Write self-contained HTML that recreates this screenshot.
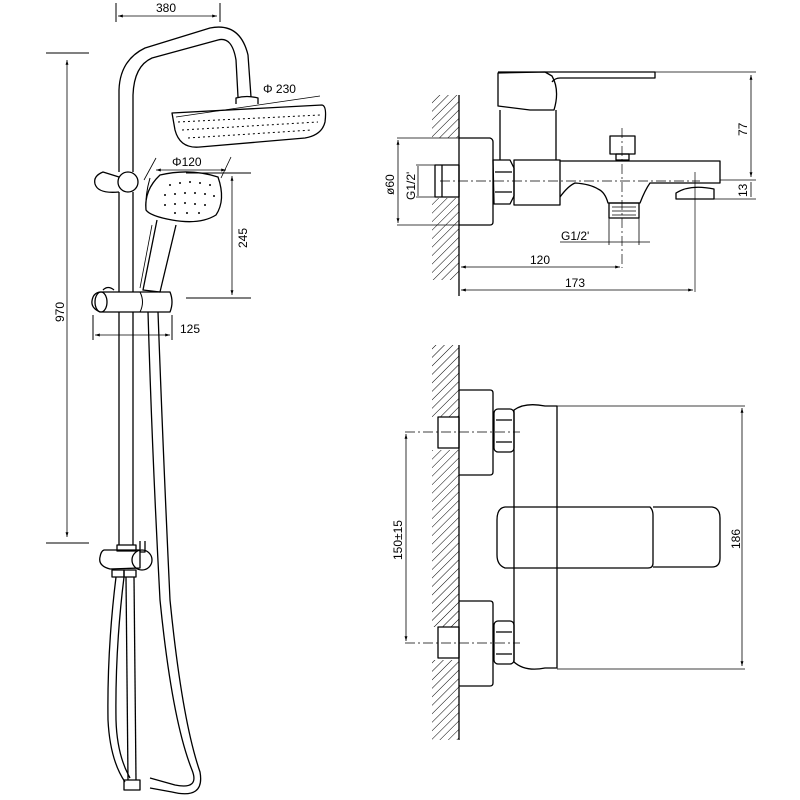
<!DOCTYPE html>
<html><head><meta charset="utf-8"><style>
html,body{margin:0;padding:0;background:#fff}
svg{display:block}
text{font-family:"Liberation Sans",sans-serif;font-size:12px;fill:#000}
</style></head><body>
<svg width="800" height="800" viewBox="0 0 800 800" xmlns="http://www.w3.org/2000/svg">
<defs>
<pattern id="h" width="6" height="6" patternUnits="userSpaceOnUse" patternTransform="rotate(45)">
<line x1="0" y1="0" x2="0" y2="6" stroke="#000" stroke-width="1"/>
</pattern>
<marker id="a" viewBox="0 0 10 10" refX="10" refY="5" markerWidth="6" markerHeight="6" orient="auto-start-reverse"><path d="M0,2 L10,5 L0,8 z" fill="#000"/></marker>
</defs>
<g fill="none" stroke="#000" stroke-width="1.3" stroke-linejoin="round">
<line x1="116" y1="3" x2="116" y2="22" stroke-width="1"/>
<line x1="220" y1="3" x2="220" y2="22" stroke-width="1"/>
<line x1="118" y1="16" x2="217" y2="16" stroke-width="0.8" marker-start="url(#a)" marker-end="url(#a)"/>
<line x1="46" y1="53" x2="89" y2="53" stroke-width="1"/>
<line x1="46" y1="543" x2="89" y2="543" stroke-width="1"/>
<line x1="67" y1="60" x2="67" y2="537" stroke-width="0.8" marker-start="url(#a)" marker-end="url(#a)"/>
<path d="M119,172 L119,90 Q120,60 145,48 L210,28 Q240,22 248,55 L251,97"/>
<path d="M133,172 L133,95 Q134,66 152,58 L218,40 Q232,36 236,60 L238,97"/>
<path d="M119,192 L119,292"/><path d="M133,192 L133,292"/>
<path d="M119,312 L119,545"/><path d="M133,312 L133,545"/>
<path d="M236,104 L236,98 Q247,95 258,98 L258,104"/>
<path d="M172,113 L322,105 Q327,106 325,122 Q322,135 305,138 L200,147 Q180,149 175,130 Z"/>
<path d="M176,117 L320,96" stroke-width="0.7"/>
<path d="M178,122 L320,115" stroke-dasharray="2,3" stroke-width="1"/>
<path d="M182,130 L318,122" stroke-dasharray="2,3" stroke-width="1"/>
<path d="M188,138 L312,130" stroke-dasharray="2,3" stroke-width="1"/>
<path d="M119,177 L103,172 Q93,176 95,184 Q98,194 119,192"/>
<ellipse cx="128" cy="182" rx="10" ry="10"/>
<path d="M160,175 Q190,168 218,177 Q226,200 216,215 Q200,225 172,220 Q150,216 146,210 Q144,190 160,175 Z"/>
<path d="M150,178 Q145,195 146,210" stroke-width="1"/>
<g fill="#000" stroke="none">
<circle cx="170" cy="185" r="1"/><circle cx="180" cy="183" r="1"/><circle cx="190" cy="182" r="1"/><circle cx="200" cy="183" r="1"/><circle cx="210" cy="185" r="1"/>
<circle cx="165" cy="195" r="1"/><circle cx="175" cy="194" r="1"/><circle cx="185" cy="193" r="1"/><circle cx="195" cy="193" r="1"/><circle cx="205" cy="194" r="1"/><circle cx="214" cy="196" r="1"/>
<circle cx="165" cy="205" r="1"/><circle cx="175" cy="204" r="1"/><circle cx="185" cy="203" r="1"/><circle cx="195" cy="204" r="1"/><circle cx="205" cy="205" r="1"/>
<circle cx="175" cy="213" r="1"/><circle cx="187" cy="213" r="1"/><circle cx="199" cy="213" r="1"/>
</g>
<path d="M157,220 L143,290 L160,292 L176,225"/>
<path d="M152,225 L140,288" stroke-width="0.8"/>
<line x1="186" y1="173" x2="251" y2="173" stroke-width="1"/>
<line x1="186" y1="298" x2="251" y2="298" stroke-width="1"/>
<line x1="232" y1="176" x2="232" y2="295" stroke-width="0.8" marker-start="url(#a)" marker-end="url(#a)"/>
<line x1="156" y1="158" x2="144" y2="180" stroke-width="0.8"/>
<line x1="231" y1="157" x2="221" y2="178" stroke-width="0.8"/>
<line x1="156" y1="170" x2="226" y2="170" stroke-width="0.8" marker-start="url(#a)" marker-end="url(#a)"/>
<path d="M100,292 L170,292 Q174,302 170,312 L100,312 Q91,308 92,301 Q93,293 100,292 Z"/>
<ellipse cx="101" cy="302" rx="6" ry="10"/>
<path d="M103,290 Q108,285 114,290" />
<path d="M140,292 Q145,302 140,312" stroke-width="1"/>
<line x1="93" y1="315" x2="93" y2="340" stroke-width="1"/>
<line x1="172" y1="315" x2="172" y2="340" stroke-width="1"/>
<line x1="95" y1="335" x2="170" y2="335" stroke-width="0.8" marker-start="url(#a)" marker-end="url(#a)"/>
<path d="M148,312 Q152,450 160,600 Q172,720 192,770 Q200,790 175,785 L150,778"/>
<path d="M158,312 Q163,450 170,600 Q182,720 200,772 Q205,800 172,792 L150,788"/>
<path d="M117,545 L136,545 L136,551 L117,551 Z"/>
<path d="M140,541 L140,552 L145,552 L145,541"/>
<path d="M104,550 L140,550 L140,568 L110,569 Q98,566 100,557 Q101,551 104,550 Z"/>
<ellipse cx="142" cy="560" rx="10" ry="10"/>
<rect x="112" y="570" width="12" height="7"/><rect x="124" y="570" width="12" height="7"/>
<path d="M116,577 Q107,650 108,720 Q110,760 125,782"/>
<path d="M124,577 Q115,650 116,720 Q117,755 130,778"/>
<path d="M126,577 L128,780"/><path d="M134,577 L136,780"/>
<rect x="124" y="780" width="16" height="10"/>
<!-- RIGHT TOP -->
<rect x="432" y="95" width="27" height="43" fill="url(#h)" stroke="none"/>
<rect x="432" y="198" width="27" height="82" fill="url(#h)" stroke="none"/>
<line x1="459" y1="95" x2="459" y2="296"/>
<path d="M459,138 L490,138 Q493,139 493,142 L493,222 Q493,225 490,225 L459,225"/>
<rect x="435" y="165" width="24" height="32"/>
<line x1="442" y1="165" x2="442" y2="197"/>
<path d="M493,160 L510,160 L514,168 L514,196 L510,204 L494,204 Z"/>
<path d="M495,172 L512,172 M495,192 L512,192"/>
<rect x="514" y="160" width="46" height="45"/>
<path d="M498,73 L498,106 L530,110 L554,110 Q560,90 552,76 L545,72 Z"/>
<path d="M498,72 L655,72 L655,78 L560,78 Q555,78 552,82" />
<path d="M500,110 L500,160 M556,110 L556,160"/>
<path d="M560,161 L720,161 L720,183 L650,183 Q645,190 640,203 L608,203 Q605,192 598,189 Q590,184 575,183 Q568,186 560,197"/>
<rect x="610" y="136" width="25" height="18"/><rect x="616" y="154" width="13" height="6"/>
<rect x="609" y="203" width="30" height="15"/>
<path d="M612,207 L636,207 M612,211 L636,211 M612,215 L636,215" stroke-width="0.8"/>
<path d="M676,199 L676,193 Q690,184 714,189 L714,199 Z"/>
<line x1="440" y1="181" x2="700" y2="181" stroke-width="0.7" stroke-dasharray="10,3,2,3"/>
<line x1="622" y1="128" x2="622" y2="268" stroke-width="0.7" stroke-dasharray="10,3,2,3"/>
<line x1="695" y1="172" x2="695" y2="292" stroke-width="0.7"/>
<line x1="655" y1="72" x2="756" y2="72" stroke-width="0.8"/>
<line x1="720" y1="180" x2="756" y2="180" stroke-width="0.8"/>
<line x1="712" y1="199" x2="756" y2="199" stroke-width="0.8"/>
<line x1="751" y1="75" x2="751" y2="177" stroke-width="0.8" marker-start="url(#a)" marker-end="url(#a)"/>
<line x1="751" y1="182" x2="751" y2="197" stroke-width="0.8"/>
<line x1="397" y1="138" x2="459" y2="138" stroke-width="0.8"/>
<line x1="397" y1="225" x2="459" y2="225" stroke-width="0.8"/>
<line x1="398" y1="140" x2="398" y2="223" stroke-width="0.8" marker-start="url(#a)" marker-end="url(#a)"/>
<line x1="418" y1="166" x2="418" y2="196" stroke-width="0.8"/>
<line x1="416" y1="165" x2="435" y2="165" stroke-width="0.8"/>
<line x1="416" y1="197" x2="435" y2="197" stroke-width="0.8"/>
<line x1="609" y1="218" x2="609" y2="245" stroke-width="0.8"/>
<line x1="639" y1="218" x2="639" y2="245" stroke-width="0.8"/>
<line x1="560" y1="242" x2="650" y2="242" stroke-width="0.8"/>
<line x1="461" y1="267" x2="620" y2="267" stroke-width="0.8" marker-start="url(#a)" marker-end="url(#a)"/>
<line x1="461" y1="290" x2="693" y2="290" stroke-width="0.8" marker-start="url(#a)" marker-end="url(#a)"/>
<!-- RIGHT BOTTOM -->
<rect x="432" y="345" width="27" height="72" fill="url(#h)" stroke="none"/>
<rect x="432" y="450" width="27" height="177" fill="url(#h)" stroke="none"/>
<rect x="432" y="660" width="27" height="80" fill="url(#h)" stroke="none"/>
<line x1="459" y1="345" x2="459" y2="740"/>
<path d="M459,390 L490,390 Q493,390 493,393 L493,472 Q493,475 490,475 L459,475"/>
<path d="M459,601 L490,601 Q493,601 493,604 L493,683 Q493,686 490,686 L459,686"/>
<rect x="438" y="417" width="21" height="31"/><rect x="438" y="627" width="21" height="31"/>
<rect x="494" y="409" width="20" height="43" rx="4"/><rect x="494" y="621" width="20" height="43" rx="4"/>
<path d="M496,420 L512,420 M496,442 L512,442 M496,632 L512,632 M496,654 L512,654"/>
<path d="M514,410 Q525,402 545,406 L557,406 L557,668 L545,668 Q525,672 514,662 Z"/>
<path d="M557,406 L745,406 M557,669 L745,669" stroke-width="0.8"/>
<path d="M505,507 L650,507 Q653,510 653,515 L653,563 Q653,568 648,568 L505,568 Q497,565 497,555 L497,520 Q497,508 505,507 Z"/>
<path d="M653,507 L712,507 Q720,508 720,518 L720,558 Q720,567 712,567 L653,567"/>
<line x1="405" y1="432" x2="520" y2="432" stroke-width="0.7" stroke-dasharray="10,3,2,3"/>
<line x1="405" y1="643" x2="520" y2="643" stroke-width="0.7" stroke-dasharray="10,3,2,3"/>
<line x1="406" y1="434" x2="406" y2="641" stroke-width="0.8" marker-start="url(#a)" marker-end="url(#a)"/>
<line x1="742" y1="408" x2="742" y2="666" stroke-width="0.8" marker-start="url(#a)" marker-end="url(#a)"/>
</g>
<text x="156" y="12">380</text>
<text x="263" y="93">Φ 230</text>
<text x="172" y="166">Φ120</text>
<text x="180" y="333">125</text>
<text transform="translate(64,322) rotate(-90)">970</text>
<text transform="translate(247,248) rotate(-90)">245</text>
<text transform="translate(394,195) rotate(-90)">ø60</text>
<text transform="translate(415,200) rotate(-90)" font-size="11">G1/2'</text>
<text transform="translate(747,136) rotate(-90)">77</text>
<text transform="translate(747,197) rotate(-90)">13</text>
<text x="561" y="240" font-size="11">G1/2'</text>
<text x="530" y="264">120</text>
<text x="565" y="287">173</text>
<text transform="translate(402,560) rotate(-90)">150±15</text>
<text transform="translate(740,549) rotate(-90)">186</text>
</svg>
</body></html>
